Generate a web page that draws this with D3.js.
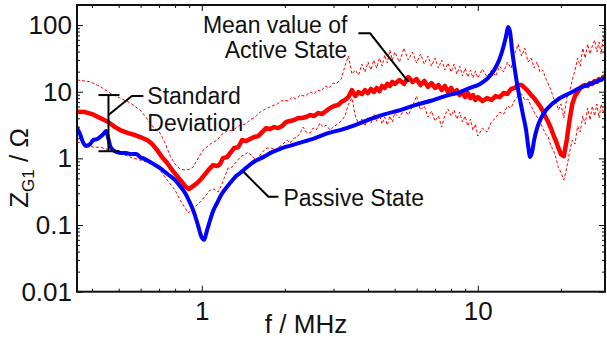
<!DOCTYPE html>
<html>
<head>
<meta charset="utf-8">
<script src="https://cdn.jsdelivr.net/npm/d3@7"></script>
<style>
  body { margin: 0; background: #fff; }
  svg { display: block; font-family: "Liberation Sans", Arial, Helvetica, sans-serif; }
  .dev-line { fill: none; stroke: #ff0000; stroke-width: 1; stroke-dasharray: 3,2; }
  .mean-line { fill: none; stroke: #ff0000; stroke-width: 4.5; stroke-linejoin: round; }
  .passive-line { fill: none; stroke: #0000ff; stroke-width: 4; stroke-linejoin: round; }
  .leader { fill: none; stroke: #000; stroke-width: 2; }
  .note { font-size: 23px; fill: #111; }
  .axis-title { font-size: 26px; fill: #111; }
</style>
</head>
<body>
<div id="chart"></div>
<script>
//////////////////////////////////////////////////////////////
/////////////////////////// Data /////////////////////////////
//////////////////////////////////////////////////////////////

//f in MHz, Z in Ohm - passive state (blue)
const passiveState = [[0.353,2.85],[0.362,2.32],[0.371,1.75],[0.381,1.53],[0.394,1.64],[0.404,1.88],[0.418,1.95],[0.432,2.16],[0.443,2.40],[0.450,2.57],[0.458,2.02],[0.466,1.53],[0.477,1.33],[0.493,1.24],[0.510,1.20],[0.532,1.20],[0.554,1.16],[0.578,1.16],[0.598,1.045],[0.623,0.976],[0.650,0.881],[0.677,0.794],[0.706,0.716],[0.736,0.623],[0.768,0.543],[0.800,0.473],[0.834,0.384],[0.870,0.302],[0.907,0.214],[0.938,0.152],[0.970,0.097],[0.994,0.0686],[1.019,0.060],[1.045,0.084],[1.072,0.119],[1.099,0.162],[1.136,0.214],[1.175,0.282],[1.225,0.359],[1.266,0.427],[1.320,0.524],[1.377,0.603],[1.459,0.741],[1.560,0.912],[1.668,1.045],[1.798,1.24],[1.954,1.43],[2.124,1.58],[2.308,1.75],[2.573,2.02],[2.869,2.40],[3.170,2.66],[3.593,3.16],[4.072,3.89],[4.615,4.62],[5.230,5.31],[5.927,6.31],[6.717,7.25],[7.613,8.61],[8.628,9.89],[9.378,11.4],[10.19,13.1],[10.90,16.1],[11.46,21.1],[11.95,29.9],[12.35,45.2],[12.66,68.4],[12.88,93.3],[13.09,78.5],[13.31,42.2],[13.54,25.1],[13.88,13.1],[14.23,7.5],[14.59,4.47],[14.96,2.66],[15.21,1.58],[15.47,1.045],[15.73,1.24],[16.00,1.88],[16.40,2.85],[16.96,4.03],[17.68,5.31],[18.58,6.53],[19.87,8.04],[21.60,9.56],[23.48,11.4],[25.52,13.1],[27.74,15.0],[29.17,16.6]]

//active state, low frequency part (smooth)
const meanLow = [[0.353,5.01],[0.378,4.95],[0.400,4.62],[0.428,4.03],[0.458,3.51],[0.485,2.95],[0.506,2.66],[0.541,2.40],[0.573,2.24],[0.598,2.09],[0.634,1.88],[0.661,1.64],[0.689,1.33],[0.718,1.045],[0.749,0.851],[0.781,0.668],[0.814,0.543],[0.848,0.441],[0.877,0.371],[0.899,0.347],[0.930,0.384],[0.962,0.427],[0.994,0.490],[1.028,0.582],[1.063,0.692],[1.099,0.794],[1.136,0.767],[1.165,0.822],[1.194,1.01],[1.235,1.045],[1.266,1.20],[1.309,1.43],[1.354,1.47],[1.400,1.88],[1.447,1.82],[1.496,1.95],[1.547,2.09],[1.600,2.16],[1.654,2.48],[1.710,2.85],[1.768,2.75],[1.828,2.95],[1.890,2.85],[1.954,3.05],[2.020,3.51],[2.089,3.63],[2.160,3.76],[2.233,4.03],[2.308,4.03],[2.388,4.17],[2.469,4.47],[2.552,4.32],[2.639,4.79],[2.729,4.62],[2.820,5.13],[2.917,5.69],[3.016,6.10],[3.117,6.31]]

const upperLow = [[0.353,15.0],[0.394,14.1],[0.428,12.0],[0.466,9.5],[0.506,8.0],[0.550,6.8],[0.598,5.3],[0.634,3.9],[0.666,2.95],[0.706,2.40],[0.736,1.70],[0.768,1.08],[0.800,0.822],[0.834,0.692],[0.870,0.668],[0.907,0.692],[0.930,0.741],[0.970,1.01],[1.011,1.33],[1.072,1.64],[1.136,1.88],[1.185,2.32],[1.235,2.57],[1.299,2.66],[1.377,3.16],[1.435,3.27],[1.496,3.76],[1.560,4.17],[1.627,4.95],[1.724,5.69],[1.798,6.10],[1.874,6.53],[1.970,7.5],[2.054,7.25],[2.124,8.31],[2.196,7.76],[2.271,8.91],[2.367,8.61],[2.469,9.89],[2.552,9.23],[2.617,10.6],[2.706,10.2],[2.797,12.2],[2.892,11.4],[2.991,13.5],[3.066,13.1]]

const lowerLow = [[0.353,1.75],[0.378,1.70],[0.404,1.47],[0.428,1.47],[0.466,1.33],[0.506,1.20],[0.550,1.045],[0.598,0.944],[0.650,0.851],[0.706,0.668],[0.749,0.473],[0.800,0.335],[0.834,0.237],[0.870,0.180],[0.892,0.152],[0.922,0.168],[0.953,0.193],[0.986,0.221],[1.028,0.272],[1.072,0.335],[1.108,0.347],[1.146,0.313],[1.175,0.384],[1.205,0.507],[1.245,0.716],[1.287,0.741],[1.342,0.912],[1.388,1.08],[1.422,1.12],[1.472,1.24],[1.521,1.08],[1.573,0.944],[1.627,1.12],[1.682,1.33],[1.724,1.43],[1.783,1.43],[1.858,1.33],[1.921,1.53],[1.987,1.70],[2.038,1.88],[2.089,1.70],[2.160,2.02],[2.214,2.09],[2.271,2.40],[2.328,2.95],[2.388,2.48],[2.469,2.40],[2.531,2.85],[2.595,2.66],[2.684,3.39],[2.751,2.95],[2.820,3.16],[2.917,2.66],[2.991,2.95],[3.066,3.16]]

//active state, high frequency part (noisy) - shared frequency list
const freqHigh = [3.2,3.3,3.4,3.5,3.6,3.7,3.8,3.9,4.0,4.1,4.2,4.3,4.4,4.5,4.6,4.7,4.8,4.9,5.0,
  5.2,5.4,5.6,5.8,6.0,6.2,6.4,6.6,6.8,7.0,7.2,7.4,7.6,7.8,8.0,8.2,8.4,8.6,8.8,9.0,9.2,9.4,9.6,9.8,10,
  10.4,10.8,11.2,11.6,12,12.4,12.8,13.2,13.6,14,14.4,14.8,15.2,15.6,16,16.4,16.8,17.2,17.6,18,18.4,18.8,19.2,19.6,20,
  20.5,21,21.5,22,22.5,23,23.5,24,24.5,25,25.5,26,26.5,27,27.5,28,28.5,29]

const meanHigh = [7.00,7.50,8.31,10.6,8.61,9.89,9.23,10.6,9.56,11.0,9.89,11.4,10.2,12.2,11.4,13.1,12.2,14.0,13.1,
  15.0,13.1,16.6,14.0,15.5,12.6,14.5,11.8,13.5,11.4,12.6,10.6,12.2,9.89,11.4,9.56,10.6,8.91,9.89,8.31,9.56,8.04,8.91,7.50,8.31,
  7.25,8.04,7.50,8.61,8.31,9.56,9.23,11.0,11.4,12.6,12.6,11.4,10.2,8.91,8.04,7.00,6.10,5.13,4.17,3.51,2.85,2.24,1.82,1.43,1.16,
  1.08,1.88,3.76,6.53,8.61,9.89,11.4,12.2,12.6,12.2,13.5,13.1,14.5,14.0,15.5,15.0,16.6,17.2]

const upperHigh = [15.5,24.2,34.3,18.4,21.1,17.8,26.0,19.7,27.9,21.1,29.9,22.6,32.0,24.2,35.5,27.0,42.2,29.9,39.4,
  27.9,45.2,29.9,39.4,27.0,36.8,26.0,34.3,24.2,32.0,22.6,29.9,21.1,27.0,19.7,26.0,18.4,24.2,17.2,22.6,16.6,21.1,16.1,20.4,16.1,
  21.9,16.6,21.1,17.2,24.2,19.7,27.9,22.6,36.8,51.9,34.3,45.2,27.9,32.0,22.6,27.9,19.7,21.1,16.1,13.1,10.6,8.04,7.0,5.31,6.53,
  4.03,8.04,9.89,15.0,21.1,32.0,24.2,45.2,32.0,51.9,36.8,48.4,59.6,39.4,55.6,36.8,68.4,48.4]

const lowerHigh = [3.63,4.32,6.53,8.04,4.32,3.27,3.89,3.05,4.17,3.39,4.62,3.63,4.47,3.27,4.17,3.16,4.32,3.51,4.79,
  4.03,5.50,4.47,6.10,8.61,5.31,6.10,4.17,5.13,3.63,4.32,2.95,4.47,5.50,4.32,5.31,3.89,4.95,3.51,4.32,3.05,3.89,2.66,3.27,2.16,
  2.85,2.48,3.51,4.03,4.95,4.62,6.10,5.69,7.50,8.61,9.23,7.50,7.76,6.10,4.95,4.17,3.51,2.85,2.32,2.09,1.53,1.33,1.01,0.716,0.623,
  0.473,0.716,1.24,1.88,1.64,3.05,2.48,4.32,3.27,5.69,3.76,6.10,4.32,6.53,4.03,6.53,4.95,6.10]

//standard deviation marker at 0.459 MHz
const errorBarF = 0.459
const errorBarZ = [1.28, 8.91]

//leader lines of the annotations
const leaderDeviation = [[0.459,4.47],[0.558,8.61],[0.614,8.61]]
const leaderMean = [[3.693,75.1],[4.072,75.1],[5.606,14.1]]
const leaderPassive = [[1.415,0.629],[1.743,0.265],[1.895,0.265]]

//ticks
const xMajor = [1, 10]
const xMinor = [0.4,0.5,0.6,0.7,0.8,0.9,2,3,4,5,6,7,8,9,20]
const yMajor = [0.01, 0.1, 1, 10, 100]
const yMinor = [0.02,0.03,0.04,0.05,0.06,0.07,0.08,0.09,0.2,0.3,0.4,0.5,0.6,0.7,0.8,0.9,2,3,4,5,6,7,8,9,20,30,40,50,60,70,80,90]

//////////////////////////////////////////////////////////////
//////////////////////// Create SVG //////////////////////////
//////////////////////////////////////////////////////////////

const margin = {left: 77, top: 5, right: 2, bottom: 49.3}
const width = 607 - margin.left - margin.right
const height = 341 - margin.top - margin.bottom

const svgRoot = d3.select("#chart").append("svg")
    .attr("width", 607)
    .attr("height", 341)

const svg = svgRoot.append("g")
    .attr("transform", "translate(" + [margin.left, margin.top] + ")")

//////////////////////////////////////////////////////////////
////////////////////// Create scales /////////////////////////
//////////////////////////////////////////////////////////////

const x = d3.scaleLog().domain([0.353, 28.9]).range([0, width])
const y = d3.scaleLog().domain([0.01, 200]).range([height, 0])

const line = d3.line().x(d => x(d[0])).y(d => y(d[1]))
const smoothLine = d3.line().x(d => x(d[0])).y(d => y(d[1])).curve(d3.curveMonotoneX)

svg.append("defs").append("clipPath")
    .attr("id", "clip-plot")
    .append("rect")
    .attr("width", width)
    .attr("height", height)

//////////////////////////////////////////////////////////////
//////////////////////// Draw axes ///////////////////////////
//////////////////////////////////////////////////////////////

const tickFont = g => g.selectAll("text")
    .style("font-size", "26px")
    .style("font-family", "'Liberation Sans', Arial, sans-serif")
    .attr("fill", "#111")

svg.append("g").attr("transform", "translate(0," + height + ")")
    .call(d3.axisBottom(x).tickValues(xMajor).tickSize(-6).tickPadding(10).tickFormat(d3.format("")))
    .call(g => g.select(".domain").remove())
    .call(tickFont)
svg.append("g").attr("transform", "translate(0," + height + ")")
    .call(d3.axisBottom(x).tickValues(xMinor).tickSize(-3).tickFormat(""))
    .call(g => g.select(".domain").remove())
svg.append("g")
    .call(d3.axisTop(x).tickValues(xMajor).tickSize(-6).tickFormat(""))
    .call(g => g.select(".domain").remove())
svg.append("g")
    .call(d3.axisTop(x).tickValues(xMinor).tickSize(-3).tickFormat(""))
    .call(g => g.select(".domain").remove())

svg.append("g")
    .call(d3.axisLeft(y).tickValues(yMajor).tickSize(-6).tickPadding(5).tickFormat(d => d3.format("")(d)))
    .call(g => g.select(".domain").remove())
    .call(tickFont)
svg.append("g")
    .call(d3.axisLeft(y).tickValues(yMinor).tickSize(-3).tickFormat(""))
    .call(g => g.select(".domain").remove())
svg.append("g").attr("transform", "translate(" + width + ",0)")
    .call(d3.axisRight(y).tickValues(yMajor).tickSize(-6).tickFormat(""))
    .call(g => g.select(".domain").remove())
svg.append("g").attr("transform", "translate(" + width + ",0)")
    .call(d3.axisRight(y).tickValues(yMinor).tickSize(-3).tickFormat(""))
    .call(g => g.select(".domain").remove())

svg.selectAll(".tick line").attr("stroke", "#111").attr("stroke-width", 1)

//axis titles
svg.append("text")
    .attr("class", "axis-title")
    .attr("x", 229)
    .attr("y", 328)
    .attr("text-anchor", "middle")
    .text("f / MHz")

const yTitle = svgRoot.append("text")
    .attr("class", "axis-title")
    .attr("transform", "translate(28,168) rotate(-90)")
    .attr("text-anchor", "middle")
yTitle.append("tspan").text("Z")
yTitle.append("tspan").attr("dy", 6).style("font-size", "17px").text("G1")
yTitle.append("tspan").attr("dy", -6).text(" / Ω")

//////////////////////////////////////////////////////////////
//////////////////////// Draw lines //////////////////////////
//////////////////////////////////////////////////////////////

const plot = svg.append("g").attr("clip-path", "url(#clip-plot)")

const upperDev = upperLow.concat(freqHigh.map((f, i) => [f, upperHigh[i]]))
const lowerDev = lowerLow.concat(freqHigh.map((f, i) => [f, lowerHigh[i]]))
const meanActive = meanLow.concat(freqHigh.map((f, i) => [f, meanHigh[i]]))

plot.append("path").attr("class", "dev-line").attr("d", line(upperDev))
plot.append("path").attr("class", "dev-line").attr("d", line(lowerDev))
plot.append("path").attr("class", "mean-line").attr("d", line(meanActive))
plot.append("path").attr("class", "passive-line").attr("d", smoothLine(passiveState))

//frame
svg.append("rect")
    .attr("width", width)
    .attr("height", height)
    .attr("fill", "none")
    .attr("stroke", "#111")
    .attr("stroke-width", 2)

//////////////////////////////////////////////////////////////
///////////////////////// Annotations ////////////////////////
//////////////////////////////////////////////////////////////

const ann = svg.append("g").attr("class", "annotation-group")

//error bar (I shape)
ann.append("line").attr("class", "leader")
    .attr("x1", x(errorBarF)).attr("x2", x(errorBarF))
    .attr("y1", y(errorBarZ[0])).attr("y2", y(errorBarZ[1]))
errorBarZ.forEach(z => {
    ann.append("line").attr("class", "leader")
        .attr("x1", x(errorBarF) - 10).attr("x2", x(errorBarF) + 11)
        .attr("y1", y(z)).attr("y2", y(z))
})

const leaderLine = d3.line().x(d => x(d[0])).y(d => y(d[1]))
ann.append("path").attr("class", "leader").attr("d", leaderLine(leaderDeviation))
ann.append("path").attr("class", "leader").attr("d", leaderLine(leaderMean))
ann.append("path").attr("class", "leader").attr("d", leaderLine(leaderPassive))

const lastOf = arr => arr[arr.length - 1]

ann.append("text").attr("class", "note")
    .attr("x", x(lastOf(leaderDeviation)[0]) + 4).attr("y", y(lastOf(leaderDeviation)[1]) + 8)
    .text("Standard")
ann.append("text").attr("class", "note")
    .attr("x", x(lastOf(leaderDeviation)[0]) + 4).attr("y", y(lastOf(leaderDeviation)[1]) + 35)
    .text("Deviation")

ann.append("text").attr("class", "note")
    .attr("text-anchor", "end")
    .attr("x", x(leaderMean[0][0]) - 11).attr("y", y(leaderMean[0][1]) + 0)
    .text("Mean value of")
ann.append("text").attr("class", "note")
    .attr("text-anchor", "end")
    .attr("x", x(leaderMean[0][0]) - 11).attr("y", y(leaderMean[0][1]) + 25)
    .text("Active State")

ann.append("text").attr("class", "note")
    .attr("x", x(lastOf(leaderPassive)[0]) + 5).attr("y", y(lastOf(leaderPassive)[1]) + 9)
    .text("Passive State")
</script>
</body>
</html>
